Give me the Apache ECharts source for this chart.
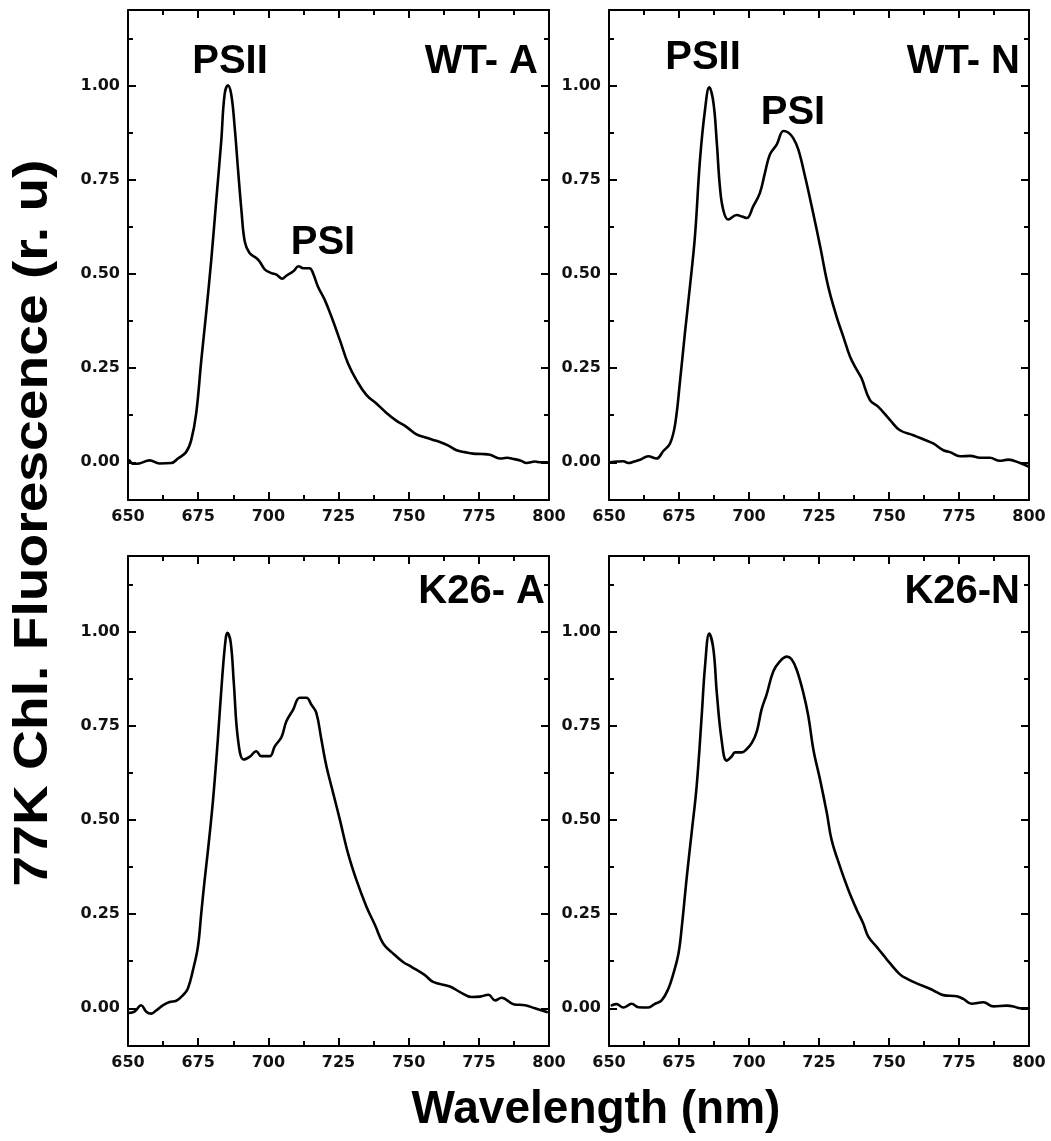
<!DOCTYPE html>
<html>
<head>
<meta charset="utf-8">
<script src="https://cdn.jsdelivr.net/npm/echarts@6/dist/echarts.min.js"></script>
<style>html,body{margin:0;padding:0;background:#fff;}#c{width:1051px;height:1141px;}</style>
</head>
<body>
<div id="c"></div>
<script>
// ---- data ----
const panelNames = ['WT- A', 'WT- N', 'K26- A', 'K26-N'];
const xTickLabels = [650, 675, 700, 725, 750, 775, 800];
const yTickLabels = [0, 0.25, 0.5, 0.75, 1.0];
const yMinorTicks = [0.125, 0.375, 0.625, 0.875, 1.125];

const wlWTA = [650.5, 652, 654, 657.7, 661.2, 665.4, 667.8, 670.7, 672.5, 674.3, 676.1, 677.9, 679.7, 681.5, 683.2, 684.4, 685.6, 686.8, 688.0, 689.2, 690.4, 691.6, 693.3, 695.7, 696.9, 698.7, 701.1, 702.9, 705.0, 706.4, 708.8, 710.8, 712.4, 714.7, 715.9, 717.7, 720.1, 722.5, 725.5, 728.4, 731.4, 735.0, 738.5, 742.1, 745.7, 749.2, 752.8, 756, 758.5, 761.1, 764, 767.1, 770, 773, 776, 779, 782.5, 785, 787.3, 790, 792, 795, 797, 799.5];
const flWTA = [0.005, -0.004, -0.003, 0.005, -0.003, -0.002, 0.01, 0.027, 0.058, 0.13, 0.27, 0.40, 0.54, 0.70, 0.85, 0.975, 1.0, 0.975, 0.89, 0.777, 0.67, 0.586, 0.555, 0.542, 0.533, 0.512, 0.502, 0.498, 0.487, 0.495, 0.506, 0.52, 0.515, 0.515, 0.502, 0.466, 0.431, 0.386, 0.324, 0.262, 0.218, 0.178, 0.156, 0.131, 0.11, 0.094, 0.074, 0.066, 0.06, 0.054, 0.045, 0.032, 0.027, 0.023, 0.022, 0.02, 0.01, 0.012, 0.009, 0.004, -0.002, 0.002, 0.0, 0.0];

const wlWTN = [650.4, 653, 655.1, 656.9, 659, 661.1, 664, 667, 669.4, 671.8, 673.6, 675.4, 677.1, 678.9, 680.7, 682.5, 684.3, 685.8, 687.3, 688.5, 689.6, 690.8, 692.6, 695.6, 697.5, 699.2, 701.5, 703.9, 705.7, 707.5, 709.9, 712.3, 714, 715.8, 717.6, 720, 722.4, 725.4, 728.3, 731.3, 733.7, 736.1, 738.5, 740.2, 743.2, 746.2, 750.4, 753.9, 758.7, 762.9, 765.8, 769.4, 771.8, 775.4, 779, 782.5, 786, 789.6, 792.6, 796.8, 799.8];
const flWTN = [0.0, 0.002, 0.003, -0.002, 0.002, 0.007, 0.016, 0.01, 0.03, 0.05, 0.1, 0.218, 0.342, 0.466, 0.6, 0.803, 0.936, 0.995, 0.954, 0.848, 0.732, 0.67, 0.644, 0.656, 0.652, 0.648, 0.679, 0.715, 0.768, 0.817, 0.843, 0.879, 0.875, 0.86, 0.83, 0.759, 0.679, 0.573, 0.466, 0.386, 0.333, 0.28, 0.245, 0.223, 0.165, 0.147, 0.112, 0.085, 0.072, 0.059, 0.05, 0.032, 0.027, 0.016, 0.017, 0.012, 0.012, 0.004, 0.007, -0.002, -0.011];

const wlK26A = [650.5, 652.3, 654.7, 656.5, 658.3, 660, 662.4, 664.8, 667.2, 669.6, 671.3, 673.1, 674.9, 676.1, 677.3, 678.5, 680.3, 682.0, 683.6, 684.8, 685.4, 686.6, 687.7, 689.2, 691.2, 693.3, 695.7, 697.5, 700.5, 702.3, 704.7, 706.4, 708.8, 711.2, 713.6, 715.3, 717.1, 718.9, 720.7, 723.1, 725.5, 728.4, 731.4, 735.0, 738, 740.9, 744.5, 748, 751, 755.8, 758.7, 764.7, 768.3, 772.4, 775.4, 778.4, 780.8, 783.1, 787.3, 791.5, 795, 799.2];
const flK26A = [-0.012, -0.009, 0.008, -0.009, -0.014, -0.006, 0.008, 0.017, 0.02, 0.035, 0.052, 0.1, 0.163, 0.252, 0.34, 0.42, 0.553, 0.713, 0.881, 0.98, 0.996, 0.97, 0.863, 0.713, 0.66, 0.667, 0.682, 0.669, 0.669, 0.695, 0.72, 0.761, 0.792, 0.824, 0.824, 0.806, 0.784, 0.713, 0.642, 0.571, 0.5, 0.411, 0.34, 0.269, 0.221, 0.172, 0.145, 0.123, 0.11, 0.088, 0.07, 0.058, 0.043, 0.03, 0.031, 0.036, 0.021, 0.028, 0.011, 0.008, 0.0, -0.01];

const wlK26N = [651, 652.7, 655.1, 658.1, 660.5, 664, 666.4, 668.8, 671.2, 673, 674.8, 676, 677.8, 679.5, 681.3, 683.1, 684.3, 685.8, 687.3, 688.5, 690.2, 692, 693.8, 695, 697.4, 699.2, 701, 702.8, 704.5, 706.3, 708.7, 711.1, 713.5, 715.2, 717, 719.4, 721.2, 723, 725.4, 727.8, 729.5, 732.5, 735.5, 738.5, 740.8, 742.6, 745.6, 748, 750.4, 753.9, 756.5, 759.9, 764.6, 767, 769.4, 774.2, 776.5, 779.5, 783.7, 787.3, 792, 794.5, 796.8, 800];
const flK26N = [0.008, 0.011, 0.002, 0.012, 0.003, 0.002, 0.012, 0.021, 0.052, 0.092, 0.145, 0.216, 0.35, 0.465, 0.589, 0.775, 0.908, 0.994, 0.952, 0.837, 0.713, 0.657, 0.668, 0.679, 0.679, 0.688, 0.704, 0.735, 0.793, 0.833, 0.894, 0.921, 0.933, 0.926, 0.899, 0.837, 0.775, 0.686, 0.606, 0.518, 0.447, 0.376, 0.314, 0.261, 0.225, 0.19, 0.163, 0.141, 0.119, 0.09, 0.078, 0.066, 0.052, 0.043, 0.035, 0.032, 0.025, 0.012, 0.016, 0.005, 0.007, 0.005, 0.0, 0.0];

const xTitle = 'Wavelength (nm)';
const yTitle = '77K Chl. Fluorescence (r. u)';

// ---- layout ----
const grids = [
  {left: 128, top: 10, width: 421, height: 490},
  {left: 609, top: 10, width: 420, height: 490},
  {left: 128, top: 556, width: 421, height: 490},
  {left: 609, top: 556, width: 420, height: 490}
];
const series = [[wlWTA, flWTA], [wlWTN, flWTN], [wlK26A, flK26A], [wlK26N, flK26N]];

const tickFont = {fontFamily: 'DejaVu Sans', fontWeight: 'bold', fontSize: 16, color: '#111'};
const lineW = 2;
const xAxes = [], yAxes = [], ser = [];
grids.forEach((g, i) => {
  [['bottom', true], ['top', false]].forEach(([pos, lab]) => {
    xAxes.push({
      type: 'value', gridIndex: i, position: pos, min: xTickLabels[0], max: xTickLabels[xTickLabels.length - 1], interval: 25,
      axisLine: {show: true, onZero: false, lineStyle: {color: '#000', width: lineW}},
      axisTick: {show: true, inside: true, length: 8, lineStyle: {color: '#000', width: lineW}},
      minorTick: {show: true, splitNumber: 2, length: 5, lineStyle: {color: '#000', width: lineW}},
      splitLine: {show: false},
      axisLabel: Object.assign({show: lab, margin: 9}, tickFont)
    });
  });
  [['left', true, true], ['left', false, false], ['right', false, true], ['right', false, false]].forEach(([pos, lab, major]) => {
    yAxes.push({
      type: 'value', gridIndex: i, position: pos, min: -0.1, max: 1.2,
      axisLine: {show: major, onZero: false, lineStyle: {color: '#000', width: lineW}},
      axisTick: {show: true, inside: true, length: major ? 8 : 5, customValues: major ? yTickLabels : yMinorTicks, lineStyle: {color: '#000', width: lineW}},
      splitLine: {show: false},
      axisLabel: Object.assign({show: lab, margin: 8, customValues: yTickLabels, formatter: v => v.toFixed(2)}, tickFont)
    });
  });
  const [wl, fl] = series[i];
  ser.push({
    type: 'line', name: panelNames[i], xAxisIndex: i * 2, yAxisIndex: i * 4,
    data: wl.map((w, k) => [w, fl[k]]),
    showSymbol: false, symbol: 'none', smooth: 0.4,
    lineStyle: {color: '#000', width: 2.6, join: 'round', cap: 'round'}, animation: false
  });
});

const labelFont = 'bold 40px "Liberation Sans", Arial, sans-serif';
function txt(text, x, y, align, font) {
  return {type: 'text', x: x, y: y, style: {text: text, fill: '#000', font: font || labelFont, textAlign: align || 'center', textVerticalAlign: 'middle'}};
}
const graphics = [
  txt('PSII', 230, 62),
  txt('PSI', 323, 243),
  txt(panelNames[0], 538, 62, 'right'),
  txt('PSII', 703, 58),
  txt('PSI', 793, 113),
  txt(panelNames[1], 1020, 62, 'right'),
  txt(panelNames[2], 545, 592, 'right'),
  txt(panelNames[3], 1020, 592, 'right'),
  txt(xTitle, 596, 1110, 'center', 'bold 46px "Liberation Sans", Arial, sans-serif'),
  {type: 'text', x: 34, y: 523, rotation: Math.PI / 2, scaleX: 1.15, style: {text: yTitle, fill: '#000', font: 'bold 48px "Liberation Sans", Arial, sans-serif', textAlign: 'center', textVerticalAlign: 'middle'}}
];

const chart = echarts.init(document.getElementById('c'), null, {renderer: 'canvas'});
chart.setOption({
  animation: false,
  backgroundColor: '#fff',
  grid: grids,
  xAxis: xAxes,
  yAxis: yAxes,
  series: ser,
  graphic: graphics
});
</script>
</body>
</html>
